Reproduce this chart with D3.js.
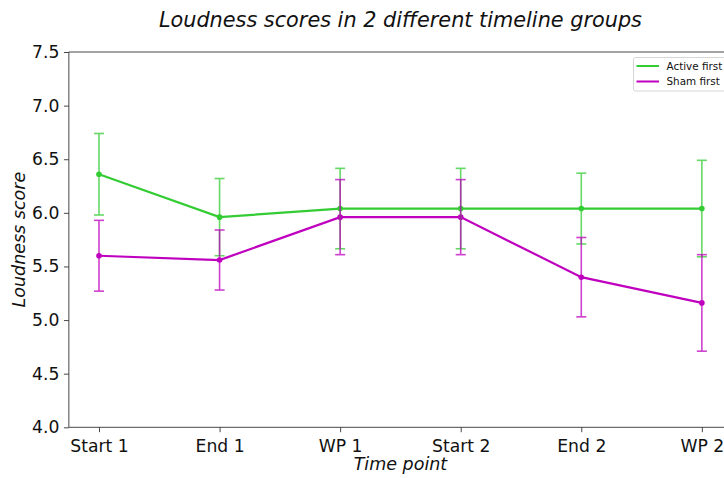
<!DOCTYPE html>
<html>
<head>
<meta charset="utf-8">
<script src="https://cdn.jsdelivr.net/npm/d3@7"></script>
<style>
  html, body { margin: 0; padding: 0; background: #fff; overflow: hidden; }
  svg { display: block; font-family: "DejaVu Sans", sans-serif; }
</style>
</head>
<body>
<svg id="chart" width="724" height="478"></svg>
<script>
// Time points on the x axis
const timePoints = ["Start 1", "End 1", "WP 1", "Start 2", "End 2", "WP 2"];

// Mean loudness score per time point
const activeFirstMean = [6.36, 5.96, 6.04, 6.04, 6.04, 6.04];
const shamFirstMean   = [5.60, 5.56, 5.96, 5.96, 5.40, 5.16];

// Half-length of each error bar
const activeFirstErr = [0.38, 0.36, 0.375, 0.375, 0.33, 0.45];
const shamFirstErr   = [0.33, 0.28, 0.35, 0.35, 0.37, 0.45];

// Y axis ticks
const yTicks = [4.0, 4.5, 5.0, 5.5, 6.0, 6.5, 7.0, 7.5];

const seriesNames  = ["Active first", "Sham first"];
const seriesColors = ["#33cc33", "#bf00bf"];

const series = [
  { name: seriesNames[0], color: seriesColors[0], mean: activeFirstMean, err: activeFirstErr },
  { name: seriesNames[1], color: seriesColors[1], mean: shamFirstMean,   err: shamFirstErr }
];

const svg = d3.select("#chart");
const plotLeft = 68.85, plotRight = 732, plotTop = 52, plotBottom = 427.3;

const x = d3.scalePoint().domain(timePoints).range([plotLeft, plotRight]).padding(0.25);
const y = d3.scaleLinear().domain([4, 7.5]).range([plotBottom, plotTop]);

const axisColor = "#333";

// Axes
const xAxis = svg.append("g")
  .attr("transform", `translate(0,${plotBottom})`)
  .call(d3.axisBottom(x).tickSize(4.9).tickPadding(4.5));
const yAxis = svg.append("g")
  .attr("transform", `translate(${plotLeft},0)`)
  .call(d3.axisLeft(y).tickValues(yTicks).tickFormat(d3.format(".1f")).tickSize(4.9).tickPadding(4.5));

[xAxis, yAxis].forEach(g => {
  g.select(".domain").remove();
  g.selectAll(".tick line").attr("stroke", axisColor).attr("stroke-width", 0.9);
  g.selectAll(".tick text")
    .attr("fill", "#111")
    .style("font-family", "DejaVu Sans")
    .style("font-size", "17.2px");
});
xAxis.selectAll(".tick text").attr("dy", "0.88em");

// Spines (left, bottom, top)
svg.append("path")
  .attr("d", `M${plotRight},${plotTop}H${plotLeft}V${plotBottom}H${plotRight}`)
  .attr("fill", "none").attr("stroke", axisColor).attr("stroke-width", 0.9);

// Lines with point markers
const line = d3.line().x((d, i) => x(timePoints[i])).y(d => y(d));
series.forEach(s => {
  svg.append("path")
    .datum(s.mean)
    .attr("d", line)
    .attr("fill", "none")
    .attr("stroke", s.color)
    .attr("stroke-width", 2.2);
  svg.append("g").selectAll("circle")
    .data(s.mean)
    .join("circle")
    .attr("cx", (d, i) => x(timePoints[i]))
    .attr("cy", d => y(d))
    .attr("r", 2.8)
    .attr("fill", s.color);
});

// Error bars with caps
const capHalf = 5;
series.forEach(s => {
  const g = svg.append("g").attr("stroke", s.color).attr("stroke-width", 1.6).attr("opacity", 0.75);
  s.mean.forEach((m, i) => {
    const cx = x(timePoints[i]);
    const y0 = y(m - s.err[i]), y1 = y(m + s.err[i]);
    g.append("line").attr("x1", cx).attr("x2", cx).attr("y1", y0).attr("y2", y1);
    g.append("line").attr("x1", cx - capHalf).attr("x2", cx + capHalf).attr("y1", y0).attr("y2", y0);
    g.append("line").attr("x1", cx - capHalf).attr("x2", cx + capHalf).attr("y1", y1).attr("y2", y1);
  });
});

// Title and axis labels
svg.append("text")
  .attr("x", (plotLeft + plotRight) / 2).attr("y", 27)
  .attr("text-anchor", "middle")
  .style("font-size", "20.8px").style("font-style", "italic")
  .attr("fill", "#111")
  .text("Loudness scores in 2 different timeline groups");

svg.append("text")
  .attr("x", (plotLeft + plotRight) / 2).attr("y", 470)
  .attr("text-anchor", "middle")
  .style("font-size", "17.5px").style("font-style", "italic")
  .attr("fill", "#111")
  .text("Time point");

svg.append("text")
  .attr("transform", `translate(24.5,${(plotTop + plotBottom) / 2}) rotate(-90)`)
  .attr("text-anchor", "middle")
  .style("font-size", "17.5px").style("font-style", "italic")
  .attr("fill", "#111")
  .text("Loudness score");

// Legend
const legend = svg.append("g").attr("transform", "translate(633.5,57.5)");
legend.append("rect")
  .attr("width", 100).attr("height", 33.5).attr("rx", 2)
  .attr("fill", "#fff").attr("fill-opacity", 0.8)
  .attr("stroke", "#ccc").attr("stroke-width", 0.8);
series.forEach((s, i) => {
  const ly = 8.5 + i * 15.5;
  legend.append("line")
    .attr("x1", 3).attr("x2", 25.5).attr("y1", ly).attr("y2", ly)
    .attr("stroke", s.color).attr("stroke-width", 2);
  legend.append("text")
    .attr("x", 33).attr("y", ly).attr("dy", "0.35em")
    .style("font-size", "10.4px").attr("fill", "#111")
    .text(s.name);
});
</script>
</body>
</html>
